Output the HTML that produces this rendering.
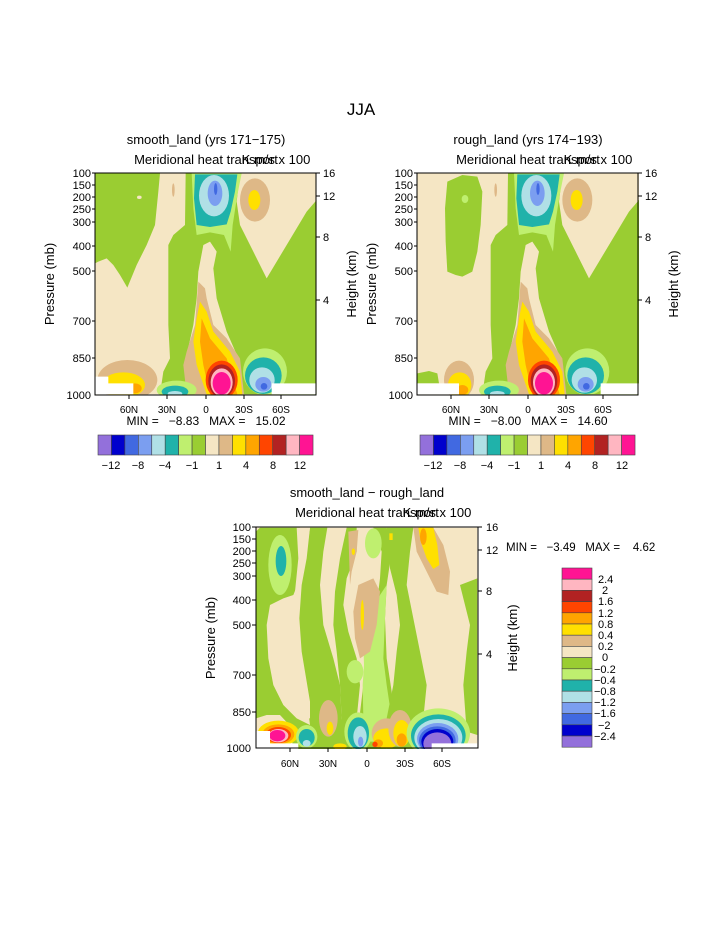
<!DOCTYPE html>
<html><head><meta charset="utf-8"><style>
html,body{margin:0;padding:0;background:#fff;}
svg{display:block;font-family:"Liberation Sans",sans-serif;}
</style></head><body>
<svg width="723" height="935" viewBox="0 0 723 935" xmlns="http://www.w3.org/2000/svg">
<defs>
<clipPath id="c1"><rect x="165" y="145" width="665" height="663"/></clipPath>
<clipPath id="c3"><rect x="168" y="128" width="664" height="664"/></clipPath>
<g id="central">
 <polygon fill="#9ACD32" points="437,145 600,145 590,230 600,300 640,380 680,460 740,360 800,260 830,225 830,808 610,808 595,700 560,620 530,520 520,430 530,380 510,350 490,360 475,440 470,520 460,600 440,690 445,808 360,808 370,740 390,700 385,600 385,360 400,330 435,300"/>
 <polygon fill="#BFEF6F" points="455,145 605,145 592,210 578,300 572,380 552,330 510,322 470,330 460,250"/>
 <polygon fill="#20B2AA" points="465,148 592,148 585,200 572,260 560,298 510,306 470,300 462,220"/>
 <ellipse fill="#B0E0E6" cx="522" cy="212" rx="45" ry="62"/>
 <ellipse fill="#7B9EF0" cx="525" cy="205" rx="22" ry="38"/>
 <ellipse fill="#4169E1" cx="527" cy="192" rx="5" ry="18"/>
 <ellipse fill="#DEB887" cx="645" cy="225" rx="45" ry="65"/>
 <ellipse fill="#FFE000" cx="643" cy="225" rx="18" ry="30"/>
 <ellipse fill="#DEB887" cx="400" cy="195" rx="4" ry="20"/>
 <polygon fill="#DEB887" points="475,470 495,490 500,520 520,600 560,640 600,700 612,808 440,808 430,720 440,680 465,600"/>
 <polygon fill="#FFE000" points="480,530 500,560 520,620 570,680 600,740 607,808 500,808 470,720 460,650 470,580"/>
 <polygon fill="#FFA500" points="485,580 510,640 560,700 592,808 510,808 490,720 480,650"/>
 <ellipse fill="#FF4500" cx="545" cy="765" rx="48" ry="58"/>
 <ellipse fill="#B22222" cx="545" cy="768" rx="40" ry="50"/>
 <ellipse fill="#FFB6C1" cx="545" cy="772" rx="33" ry="42"/>
 <ellipse fill="#FF1493" cx="545" cy="775" rx="27" ry="34"/>
 <ellipse fill="#BFEF6F" cx="675" cy="740" rx="66" ry="70"/>
 <ellipse fill="#20B2AA" cx="670" cy="752" rx="55" ry="55"/>
 <ellipse fill="#B0E0E6" cx="666" cy="765" rx="38" ry="38"/>
 <ellipse fill="#7B9EF0" cx="670" cy="778" rx="24" ry="22"/>
 <ellipse fill="#4169E1" cx="672" cy="784" rx="10" ry="10"/>
 <ellipse fill="#BFEF6F" cx="410" cy="795" rx="60" ry="28"/>
 <ellipse fill="#20B2AA" cx="405" cy="800" rx="40" ry="18"/>
 <ellipse fill="#B0E0E6" cx="405" cy="806" rx="22" ry="8"/>
</g>
</defs>

<text x="361" y="115" font-size="17" text-anchor="middle">JJA</text>

<!-- PANEL 1 -->
<text x="206" y="144" font-size="13" text-anchor="middle">smooth_land (yrs 171−175)</text>
<text x="206" y="164" font-size="13" text-anchor="middle">Meridional heat transport</text>
<text x="276" y="164" font-size="13" text-anchor="middle">K m/s x 100</text>
<g transform="translate(40,125) scale(0.33333)">
 <g clip-path="url(#c1)">
  <rect x="165" y="145" width="665" height="663" fill="#F5E6C4"/>
  <polygon fill="#9ACD32" points="165,145 360,145 355,200 345,300 320,360 290,420 262,488 240,450 220,420 200,400 175,410 165,415"/>
  <ellipse fill="#F5E6C4" cx="298" cy="217" rx="7" ry="5"/>
  <use href="#central"/>
  <ellipse fill="#DEB887" cx="262" cy="765" rx="90" ry="60"/>
  <ellipse fill="#FFE000" cx="250" cy="780" rx="65" ry="38"/>
  <ellipse fill="#FFA500" cx="285" cy="790" rx="20" ry="15"/>
  <polygon fill="#fff" points="165,755 205,755 205,775 280,775 280,808 165,808"/>
  <polygon fill="#fff" points="695,775 830,775 830,808 695,808"/>
 </g>
</g>
<rect x="95" y="173" width="221" height="222" fill="none" stroke="#000" stroke-width="1"/>
<g font-size="11" text-anchor="end">
 <text x="91" y="177">100</text><text x="91" y="189">150</text><text x="91" y="201">200</text><text x="91" y="213">250</text><text x="91" y="226">300</text><text x="91" y="250">400</text><text x="91" y="275">500</text><text x="91" y="325">700</text><text x="91" y="362">850</text><text x="91" y="399">1000</text>
</g>
<g stroke="#000"><line x1="92" y1="173" x2="95" y2="173"/><line x1="92" y1="185" x2="95" y2="185"/><line x1="92" y1="197" x2="95" y2="197"/><line x1="92" y1="209" x2="95" y2="209"/><line x1="92" y1="222" x2="95" y2="222"/><line x1="92" y1="246" x2="95" y2="246"/><line x1="92" y1="271" x2="95" y2="271"/><line x1="92" y1="321" x2="95" y2="321"/><line x1="92" y1="358" x2="95" y2="358"/>
<line x1="316" y1="173" x2="320" y2="173"/><line x1="316" y1="196" x2="320" y2="196"/><line x1="316" y1="237" x2="320" y2="237"/><line x1="316" y1="300" x2="320" y2="300"/>
<line x1="129" y1="395" x2="129" y2="399"/><line x1="167" y1="395" x2="167" y2="399"/><line x1="206" y1="395" x2="206" y2="399"/><line x1="244" y1="395" x2="244" y2="399"/><line x1="281" y1="395" x2="281" y2="399"/></g>
<g font-size="11"><text x="323" y="177">16</text><text x="323" y="200">12</text><text x="323" y="241">8</text><text x="323" y="304">4</text></g>
<text transform="translate(54,284) rotate(-90)" font-size="13" text-anchor="middle">Pressure (mb)</text>
<text transform="translate(356,284) rotate(-90)" font-size="13" text-anchor="middle">Height (km)</text>
<g font-size="10" text-anchor="middle"><text x="129" y="413">60N</text><text x="167" y="413">30N</text><text x="206" y="413">0</text><text x="244" y="413">30S</text><text x="281" y="413">60S</text></g>
<text x="206" y="425" font-size="12" text-anchor="middle" xml:space="preserve">MIN =   −8.83   MAX =   15.02</text>

<!-- PANEL 2 -->
<text x="528" y="144" font-size="13" text-anchor="middle">rough_land (yrs 174−193)</text>
<text x="528" y="164" font-size="13" text-anchor="middle">Meridional heat transport</text>
<text x="598" y="164" font-size="13" text-anchor="middle">K m/s x 100</text>
<g transform="translate(360,125) scale(0.33333)">
 <g clip-path="url(#c1)" transform="translate(7,0)">
  <rect x="165" y="145" width="665" height="663" fill="#F5E6C4"/>
  <polygon fill="#9ACD32" points="255,170 300,150 345,155 360,200 355,300 345,380 330,440 300,455 280,450 255,440 250,350 248,250"/>
  <ellipse fill="#BFEF6F" cx="308" cy="222" rx="10" ry="12"/>
  <use href="#central"/>
  <ellipse fill="#F5E6C4" cx="508" cy="460" rx="10" ry="30"/>
  <polygon fill="#9ACD32" points="165,745 200,738 225,745 230,775 165,775"/>
  <ellipse fill="#DEB887" cx="290" cy="765" rx="45" ry="58"/>
  <ellipse fill="#FFE000" cx="292" cy="780" rx="35" ry="38"/>
  <ellipse fill="#FFA500" cx="300" cy="795" rx="18" ry="15"/>
  <polygon fill="#fff" points="165,775 290,775 290,808 165,808"/>
  <polygon fill="#fff" points="715,775 830,775 830,808 715,808"/>
 </g>
</g>
<rect x="417" y="173" width="221" height="222" fill="none" stroke="#000" stroke-width="1"/>
<g font-size="11" text-anchor="end">
 <text x="413" y="177">100</text><text x="413" y="189">150</text><text x="413" y="201">200</text><text x="413" y="213">250</text><text x="413" y="226">300</text><text x="413" y="250">400</text><text x="413" y="275">500</text><text x="413" y="325">700</text><text x="413" y="362">850</text><text x="413" y="399">1000</text>
</g>
<g stroke="#000"><line x1="414" y1="173" x2="417" y2="173"/><line x1="414" y1="185" x2="417" y2="185"/><line x1="414" y1="197" x2="417" y2="197"/><line x1="414" y1="209" x2="417" y2="209"/><line x1="414" y1="222" x2="417" y2="222"/><line x1="414" y1="246" x2="417" y2="246"/><line x1="414" y1="271" x2="417" y2="271"/><line x1="414" y1="321" x2="417" y2="321"/><line x1="414" y1="358" x2="417" y2="358"/>
<line x1="638" y1="173" x2="642" y2="173"/><line x1="638" y1="196" x2="642" y2="196"/><line x1="638" y1="237" x2="642" y2="237"/><line x1="638" y1="300" x2="642" y2="300"/>
<line x1="451" y1="395" x2="451" y2="399"/><line x1="489" y1="395" x2="489" y2="399"/><line x1="528" y1="395" x2="528" y2="399"/><line x1="566" y1="395" x2="566" y2="399"/><line x1="603" y1="395" x2="603" y2="399"/></g>
<g font-size="11"><text x="645" y="177">16</text><text x="645" y="200">12</text><text x="645" y="241">8</text><text x="645" y="304">4</text></g>
<text transform="translate(376,284) rotate(-90)" font-size="13" text-anchor="middle">Pressure (mb)</text>
<text transform="translate(678,284) rotate(-90)" font-size="13" text-anchor="middle">Height (km)</text>
<g font-size="10" text-anchor="middle"><text x="451" y="413">60N</text><text x="489" y="413">30N</text><text x="528" y="413">0</text><text x="566" y="413">30S</text><text x="603" y="413">60S</text></g>
<text x="528" y="425" font-size="12" text-anchor="middle" xml:space="preserve">MIN =   −8.00   MAX =   14.60</text>

<g id="cb" stroke="#444" stroke-width="0.6">
 <rect x="98" y="435" width="13.44" height="20" fill="#9370DB"/>
 <rect x="111.44" y="435" width="13.44" height="20" fill="#0000CD"/>
 <rect x="124.88" y="435" width="13.44" height="20" fill="#4169E1"/>
 <rect x="138.32" y="435" width="13.44" height="20" fill="#7B9EF0"/>
 <rect x="151.76" y="435" width="13.44" height="20" fill="#B0E0E6"/>
 <rect x="165.2" y="435" width="13.44" height="20" fill="#20B2AA"/>
 <rect x="178.64" y="435" width="13.44" height="20" fill="#BFEF6F"/>
 <rect x="192.08" y="435" width="13.44" height="20" fill="#9ACD32"/>
 <rect x="205.52" y="435" width="13.44" height="20" fill="#F5E6C4"/>
 <rect x="218.96" y="435" width="13.44" height="20" fill="#DEB887"/>
 <rect x="232.4" y="435" width="13.44" height="20" fill="#FFE000"/>
 <rect x="245.84" y="435" width="13.44" height="20" fill="#FFA500"/>
 <rect x="259.28" y="435" width="13.44" height="20" fill="#FF4500"/>
 <rect x="272.72" y="435" width="13.44" height="20" fill="#B22222"/>
 <rect x="286.16" y="435" width="13.44" height="20" fill="#FFB6C1"/>
 <rect x="299.6" y="435" width="13.44" height="20" fill="#FF1493"/>
</g>
<g font-size="11" text-anchor="middle" id="cbl">
 <text x="111" y="469">−12</text><text x="138" y="469">−8</text><text x="165" y="469">−4</text><text x="192" y="469">−1</text><text x="219" y="469">1</text><text x="246" y="469">4</text><text x="273" y="469">8</text><text x="300" y="469">12</text>
</g>
<use href="#cb" transform="translate(322,0)"/>
<use href="#cbl" transform="translate(322,0)"/>

<!-- PANEL 3 -->
<text x="367" y="497" font-size="13" text-anchor="middle">smooth_land − rough_land</text>
<text x="367" y="517" font-size="13" text-anchor="middle">Meridional heat transport</text>
<text x="437" y="517" font-size="13" text-anchor="middle">K m/s x 100</text>
<g transform="translate(200,485) scale(0.33333)">
 <g clip-path="url(#c3)">
  <rect x="168" y="128" width="664" height="664" fill="#F5E6C4"/>
  <polygon fill="#9ACD32" points="168,140 180,128 300,128 310,200 300,280 280,330 250,340 210,360 200,420 205,520 220,600 250,660 290,700 330,720 320,640 310,560 300,480 290,380 300,300 320,200 330,128 382,128 370,200 360,300 370,420 400,520 420,600 425,700 440,792 280,792 268,720 240,690 200,690 168,700"/>
  <polygon fill="#F5E6C4" points="290,128 330,128 320,220 305,300 298,400 305,500 315,560 330,650 330,700 305,700 290,620 285,520 280,420 285,320 295,220"/>
  <ellipse fill="#BFEF6F" cx="240" cy="240" rx="35" ry="90"/>
  <ellipse fill="#20B2AA" cx="243" cy="228" rx="16" ry="45"/>
  <polygon fill="#9ACD32" points="440,128 470,128 470,200 440,280 430,360 445,440 470,520 480,600 470,700 470,792 420,792 425,700 420,600 410,500 400,420 405,320 420,220"/>
  <polygon fill="#9ACD32" points="520,128 560,128 575,200 560,300 555,400 560,520 575,620 580,700 560,792 470,792 478,700 490,600 500,520 510,440 530,360 540,280 545,200"/>
  <polygon fill="#BFEF6F" points="490,470 510,400 540,330 560,300 555,400 550,520 560,600 575,700 560,770 500,770 490,700 488,600 492,540"/>
  <ellipse fill="#BFEF6F" cx="520" cy="175" rx="25" ry="45"/>
  <ellipse fill="#BFEF6F" cx="465" cy="560" rx="25" ry="35"/>
  <polygon fill="#9ACD32" points="560,128 640,128 630,200 620,300 640,400 660,500 680,600 670,700 650,792 560,792 560,700 580,600 590,500 600,420 590,330 570,250"/>
  <polygon fill="#9ACD32" points="780,300 832,280 832,750 800,740 790,600 800,500 810,420"/>
  <polygon fill="#DEB887" points="445,140 475,135 470,200 455,260 450,300"/>
  <polygon fill="#DEB887" points="475,300 520,280 540,320 530,420 510,500 480,520 465,460 460,380"/>
  <ellipse fill="#FFE000" cx="487" cy="390" rx="5" ry="45"/>
  <ellipse fill="#FFE000" cx="460" cy="200" rx="5" ry="10"/>
  <rect x="568" y="145" width="10" height="20" fill="#FFE000"/>
  <polygon fill="#DEB887" points="640,128 700,128 730,180 750,260 745,330 710,320 680,260 650,200"/>
  <polygon fill="#FFE000" points="655,128 700,128 712,180 718,240 700,252 680,220 662,170"/>
  <ellipse fill="#FFA500" cx="670" cy="155" rx="10" ry="25"/>
  <ellipse fill="#FFE000" cx="235" cy="745" rx="62" ry="38"/>
  <ellipse fill="#FFA500" cx="235" cy="748" rx="48" ry="30"/>
  <ellipse fill="#FF4500" cx="235" cy="750" rx="38" ry="24"/>
  <ellipse fill="#FFB6C1" cx="235" cy="752" rx="30" ry="20"/>
  <ellipse fill="#FF1493" cx="232" cy="752" rx="24" ry="17"/>
  <ellipse fill="#BFEF6F" cx="320" cy="755" rx="32" ry="35"/>
  <ellipse fill="#20B2AA" cx="320" cy="758" rx="24" ry="26"/>
  <ellipse fill="#B0E0E6" cx="320" cy="775" rx="12" ry="10"/>
  <ellipse fill="#DEB887" cx="385" cy="700" rx="28" ry="55"/>
  <ellipse fill="#FFE000" cx="390" cy="730" rx="10" ry="20"/>
  <ellipse fill="#FFE000" cx="420" cy="785" rx="20" ry="10"/>
  <ellipse fill="#BFEF6F" cx="475" cy="740" rx="42" ry="58"/>
  <ellipse fill="#20B2AA" cx="475" cy="745" rx="32" ry="48"/>
  <ellipse fill="#B0E0E6" cx="480" cy="755" rx="20" ry="32"/>
  <ellipse fill="#7B9EF0" cx="482" cy="770" rx="8" ry="15"/>
  <ellipse fill="#DEB887" cx="560" cy="745" rx="45" ry="45"/>
  <ellipse fill="#FFE000" cx="560" cy="760" rx="40" ry="30"/>
  <ellipse fill="#FFA500" cx="535" cy="775" rx="14" ry="12"/>
  <ellipse fill="#FF4500" cx="525" cy="778" rx="8" ry="8"/>
  <ellipse fill="#DEB887" cx="600" cy="730" rx="35" ry="55"/>
  <ellipse fill="#FFE000" cx="605" cy="745" rx="25" ry="40"/>
  <ellipse fill="#FFA500" cx="605" cy="765" rx="15" ry="20"/>
  <ellipse fill="#BFEF6F" cx="715" cy="745" rx="95" ry="75"/>
  <ellipse fill="#20B2AA" cx="715" cy="752" rx="82" ry="64"/>
  <ellipse fill="#B0E0E6" cx="715" cy="758" rx="72" ry="56"/>
  <ellipse fill="#7B9EF0" cx="713" cy="762" rx="62" ry="48"/>
  <ellipse fill="#4169E1" cx="712" cy="766" rx="55" ry="42"/>
  <ellipse fill="#0000CD" cx="712" cy="770" rx="48" ry="38"/>
  <ellipse fill="#9370DB" cx="712" cy="776" rx="42" ry="34"/>
  <polygon fill="#fff" points="168,738 210,738 210,775 295,775 295,792 168,792"/>
  <polygon fill="#fff" points="695,775 832,775 832,792 695,792"/>
 </g>
</g>
<rect x="256" y="527" width="222" height="221" fill="none" stroke="#000" stroke-width="1"/>
<g font-size="11" text-anchor="end">
 <text x="251" y="531">100</text><text x="251" y="543">150</text><text x="251" y="555">200</text><text x="251" y="567">250</text><text x="251" y="580">300</text><text x="251" y="604">400</text><text x="251" y="629">500</text><text x="251" y="679">700</text><text x="251" y="716">850</text><text x="251" y="752">1000</text>
</g>
<g stroke="#000"><line x1="252" y1="527" x2="256" y2="527"/><line x1="252" y1="539" x2="256" y2="539"/><line x1="252" y1="551" x2="256" y2="551"/><line x1="252" y1="563" x2="256" y2="563"/><line x1="252" y1="576" x2="256" y2="576"/><line x1="252" y1="600" x2="256" y2="600"/><line x1="252" y1="625" x2="256" y2="625"/><line x1="252" y1="675" x2="256" y2="675"/><line x1="252" y1="712" x2="256" y2="712"/>
<line x1="478" y1="527" x2="482" y2="527"/><line x1="478" y1="550" x2="482" y2="550"/><line x1="478" y1="591" x2="482" y2="591"/><line x1="478" y1="654" x2="482" y2="654"/>
<line x1="290" y1="748" x2="290" y2="752"/><line x1="328" y1="748" x2="328" y2="752"/><line x1="367" y1="748" x2="367" y2="752"/><line x1="405" y1="748" x2="405" y2="752"/><line x1="442" y1="748" x2="442" y2="752"/></g>
<g font-size="11"><text x="486" y="531">16</text><text x="486" y="554">12</text><text x="486" y="595">8</text><text x="486" y="658">4</text></g>
<text transform="translate(215,638) rotate(-90)" font-size="13" text-anchor="middle">Pressure (mb)</text>
<text transform="translate(517,638) rotate(-90)" font-size="13" text-anchor="middle">Height (km)</text>
<g font-size="10" text-anchor="middle"><text x="290" y="767">60N</text><text x="328" y="767">30N</text><text x="367" y="767">0</text><text x="405" y="767">30S</text><text x="442" y="767">60S</text></g>
<text x="506" y="551" font-size="11.5" xml:space="preserve">MIN =   −3.49   MAX =    4.62</text>

<g stroke="#444" stroke-width="0.6">
 <rect x="562" y="568" width="30" height="11.2" fill="#FF1493"/>
 <rect x="562" y="579.2" width="30" height="11.2" fill="#FFB6C1"/>
 <rect x="562" y="590.4" width="30" height="11.2" fill="#B22222"/>
 <rect x="562" y="601.6" width="30" height="11.2" fill="#FF4500"/>
 <rect x="562" y="612.8" width="30" height="11.2" fill="#FFA500"/>
 <rect x="562" y="624" width="30" height="11.2" fill="#FFE000"/>
 <rect x="562" y="635.2" width="30" height="11.2" fill="#DEB887"/>
 <rect x="562" y="646.4" width="30" height="11.2" fill="#F5E6C4"/>
 <rect x="562" y="657.6" width="30" height="11.2" fill="#9ACD32"/>
 <rect x="562" y="668.8" width="30" height="11.2" fill="#BFEF6F"/>
 <rect x="562" y="680" width="30" height="11.2" fill="#20B2AA"/>
 <rect x="562" y="691.2" width="30" height="11.2" fill="#B0E0E6"/>
 <rect x="562" y="702.4" width="30" height="11.2" fill="#7B9EF0"/>
 <rect x="562" y="713.6" width="30" height="11.2" fill="#4169E1"/>
 <rect x="562" y="724.8" width="30" height="11.2" fill="#0000CD"/>
 <rect x="562" y="736" width="30" height="11.2" fill="#9370DB"/>
</g>
<g font-size="11">
 <text x="598" y="583">2.4</text><text x="602" y="594">2</text><text x="598" y="605">1.6</text><text x="598" y="617">1.2</text><text x="598" y="628">0.8</text><text x="598" y="639">0.4</text><text x="598" y="650">0.2</text><text x="602" y="661">0</text><text x="594" y="673">−0.2</text><text x="594" y="684">−0.4</text><text x="594" y="695">−0.8</text><text x="594" y="706">−1.2</text><text x="594" y="717">−1.6</text><text x="598" y="729">−2</text><text x="594" y="740">−2.4</text>
</g>
</svg>
</body></html>
